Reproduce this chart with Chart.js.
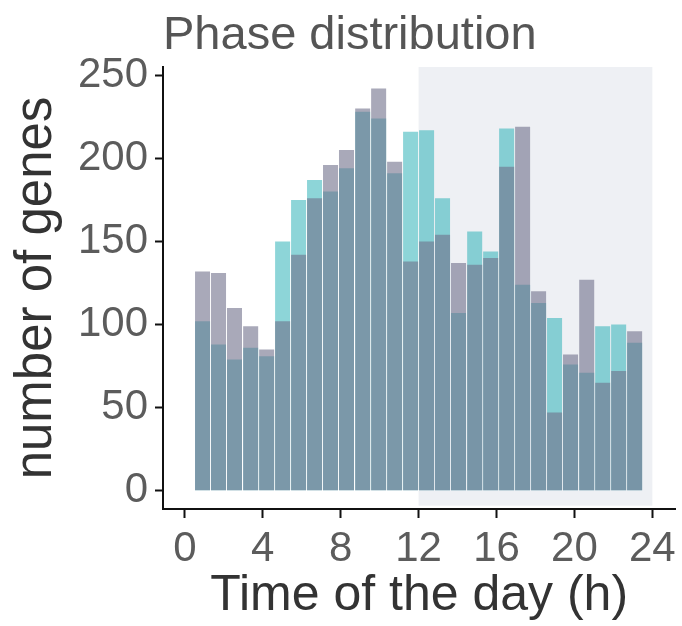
<!doctype html>
<html lang="en">
  <head>
    <meta charset="utf-8">
    <title>Phase distribution</title>
    <script src="https://cdn.jsdelivr.net/npm/chart.js"></script>
    <style>
      html, body { margin: 0; padding: 0; background: #fff; }
      #wrap { width: 682px; height: 626px; position: relative; }
    </style>
  </head>
  <body>
    <div id="wrap">
      <canvas id="phaseChart"></canvas>
    </div>

    <script>
      // histogram bins (h), 28 bins between 0.5 and 23.5
      var binCenters = [0.91, 1.73, 2.55, 3.38, 4.20, 5.02, 5.84, 6.66, 7.48, 8.30,
                        9.13, 9.95, 10.77, 11.59, 12.41, 13.23, 14.05, 14.88, 15.70, 16.52,
                        17.34, 18.16, 18.98, 19.80, 20.63, 21.45, 22.27, 23.09];

      // number of genes per bin
      var cyanCounts = [102, 88, 79, 86, 81, 150, 175, 187, 180, 194,
                        228, 224, 191, 216, 217, 176, 107, 156, 144, 218,
                        124, 113, 104, 76, 71, 99, 100, 89];
      var greyCounts = [132, 131, 110, 99, 85, 102, 142, 176, 196, 205,
                        230, 242, 198, 138, 150, 154, 137, 136, 140, 195,
                        219, 120, 47, 82, 127, 65, 72, 96];

      var xTicks = [0, 4, 8, 12, 16, 20, 24];
      var yTicks = [0, 50, 100, 150, 200, 250];
      var darkSpan = [12, 24];   // shaded part of the day

      var FONT = "'Liberation Sans', Arial, Helvetica, sans-serif";

      function toPoints(vals) {
        return vals.map(function (v, i) { return { x: binCenters[i], y: v }; });
      }

      // grey band behind the bars for the dark phase
      var shadePlugin = {
        id: 'shade',
        beforeDatasetsDraw: function (chart) {
          var ctx = chart.ctx;
          var xs = chart.scales.x, ys = chart.scales.y;
          var x0 = xs.getPixelForValue(darkSpan[0]);
          var x1 = xs.getPixelForValue(darkSpan[1]);
          var y0 = ys.getPixelForValue(255);
          var y1 = ys.getPixelForValue(-9);
          ctx.save();
          ctx.fillStyle = '#eef0f4';
          ctx.fillRect(x0, y0, x1 - x0, y1 - y0);
          ctx.restore();
        }
      };

      var ctx = document.getElementById('phaseChart').getContext('2d');
      var phaseChart = new Chart(ctx, {
        type: 'bar',
        data: {
          datasets: [{
            label: 'grey',
            data: toPoints(greyCounts),
            backgroundColor: 'rgba(112, 112, 138, 0.6)',
            borderWidth: 0,
            order: 1
          }, {
            label: 'cyan',
            data: toPoints(cyanCounts),
            backgroundColor: 'rgba(27, 171, 177, 0.5)',
            borderWidth: 0,
            order: 2
          }]
        },
        options: {
          responsive: true,
          maintainAspectRatio: false,
          animation: false,
          layout: { padding: { top: 0, right: 4, bottom: 0, left: 0 } },
          datasets: {
            bar: { grouped: false, barPercentage: 0.94, categoryPercentage: 1 }
          },
          plugins: {
            legend: { display: false },
            tooltip: { enabled: false },
            title: {
              display: true,
              text: 'Phase distribution',
              align: 'start',
              fullSize: false,
              color: '#555',
              font: { family: FONT, size: 47, weight: 'normal', lineHeight: 1 },
              padding: { top: 13, bottom: 7 }
            }
          },
          scales: {
            x: {
              type: 'linear',
              offset: false,
              min: -1.12,
              max: 25.18,
              afterBuildTicks: function (scale) {
                scale.ticks = xTicks.map(function (v) { return { value: v }; });
              },
              afterFit: function (scale) { scale.height = 117; },
              ticks: {
                color: '#5c5c5c',
                padding: 6,
                maxRotation: 0,
                autoSkip: false,
                font: { family: FONT, size: 42 }
              },
              grid: {
                offset: false,
                drawOnChartArea: false,
                drawTicks: true,
                tickLength: 9,
                tickWidth: 2,
                tickColor: '#111'
              },
              border: { display: true, color: '#111', width: 2 },
              title: {
                display: true,
                text: 'Time of the day (h)',
                color: '#333',
                font: { family: FONT, size: 50, lineHeight: 1 },
                padding: { top: 0, bottom: 5 }
              }
            },
            y: {
              min: -11,
              max: 255,
              afterBuildTicks: function (scale) {
                scale.ticks = yTicks.map(function (v) { return { value: v }; });
              },
              afterFit: function (scale) { scale.width = 163; },
              ticks: {
                color: '#5c5c5c',
                padding: 7,
                font: { family: FONT, size: 42 }
              },
              grid: {
                drawOnChartArea: false,
                drawTicks: true,
                tickLength: 8,
                tickWidth: 2,
                tickColor: '#111'
              },
              border: { display: true, color: '#111', width: 2 },
              title: {
                display: true,
                text: 'number of genes',
                color: '#333',
                font: { family: FONT, size: 51, lineHeight: 1 },
                padding: { top: 11, bottom: 0 }
              }
            }
          }
        },
        plugins: [shadePlugin]
      });
    </script>
  </body>
</html>
